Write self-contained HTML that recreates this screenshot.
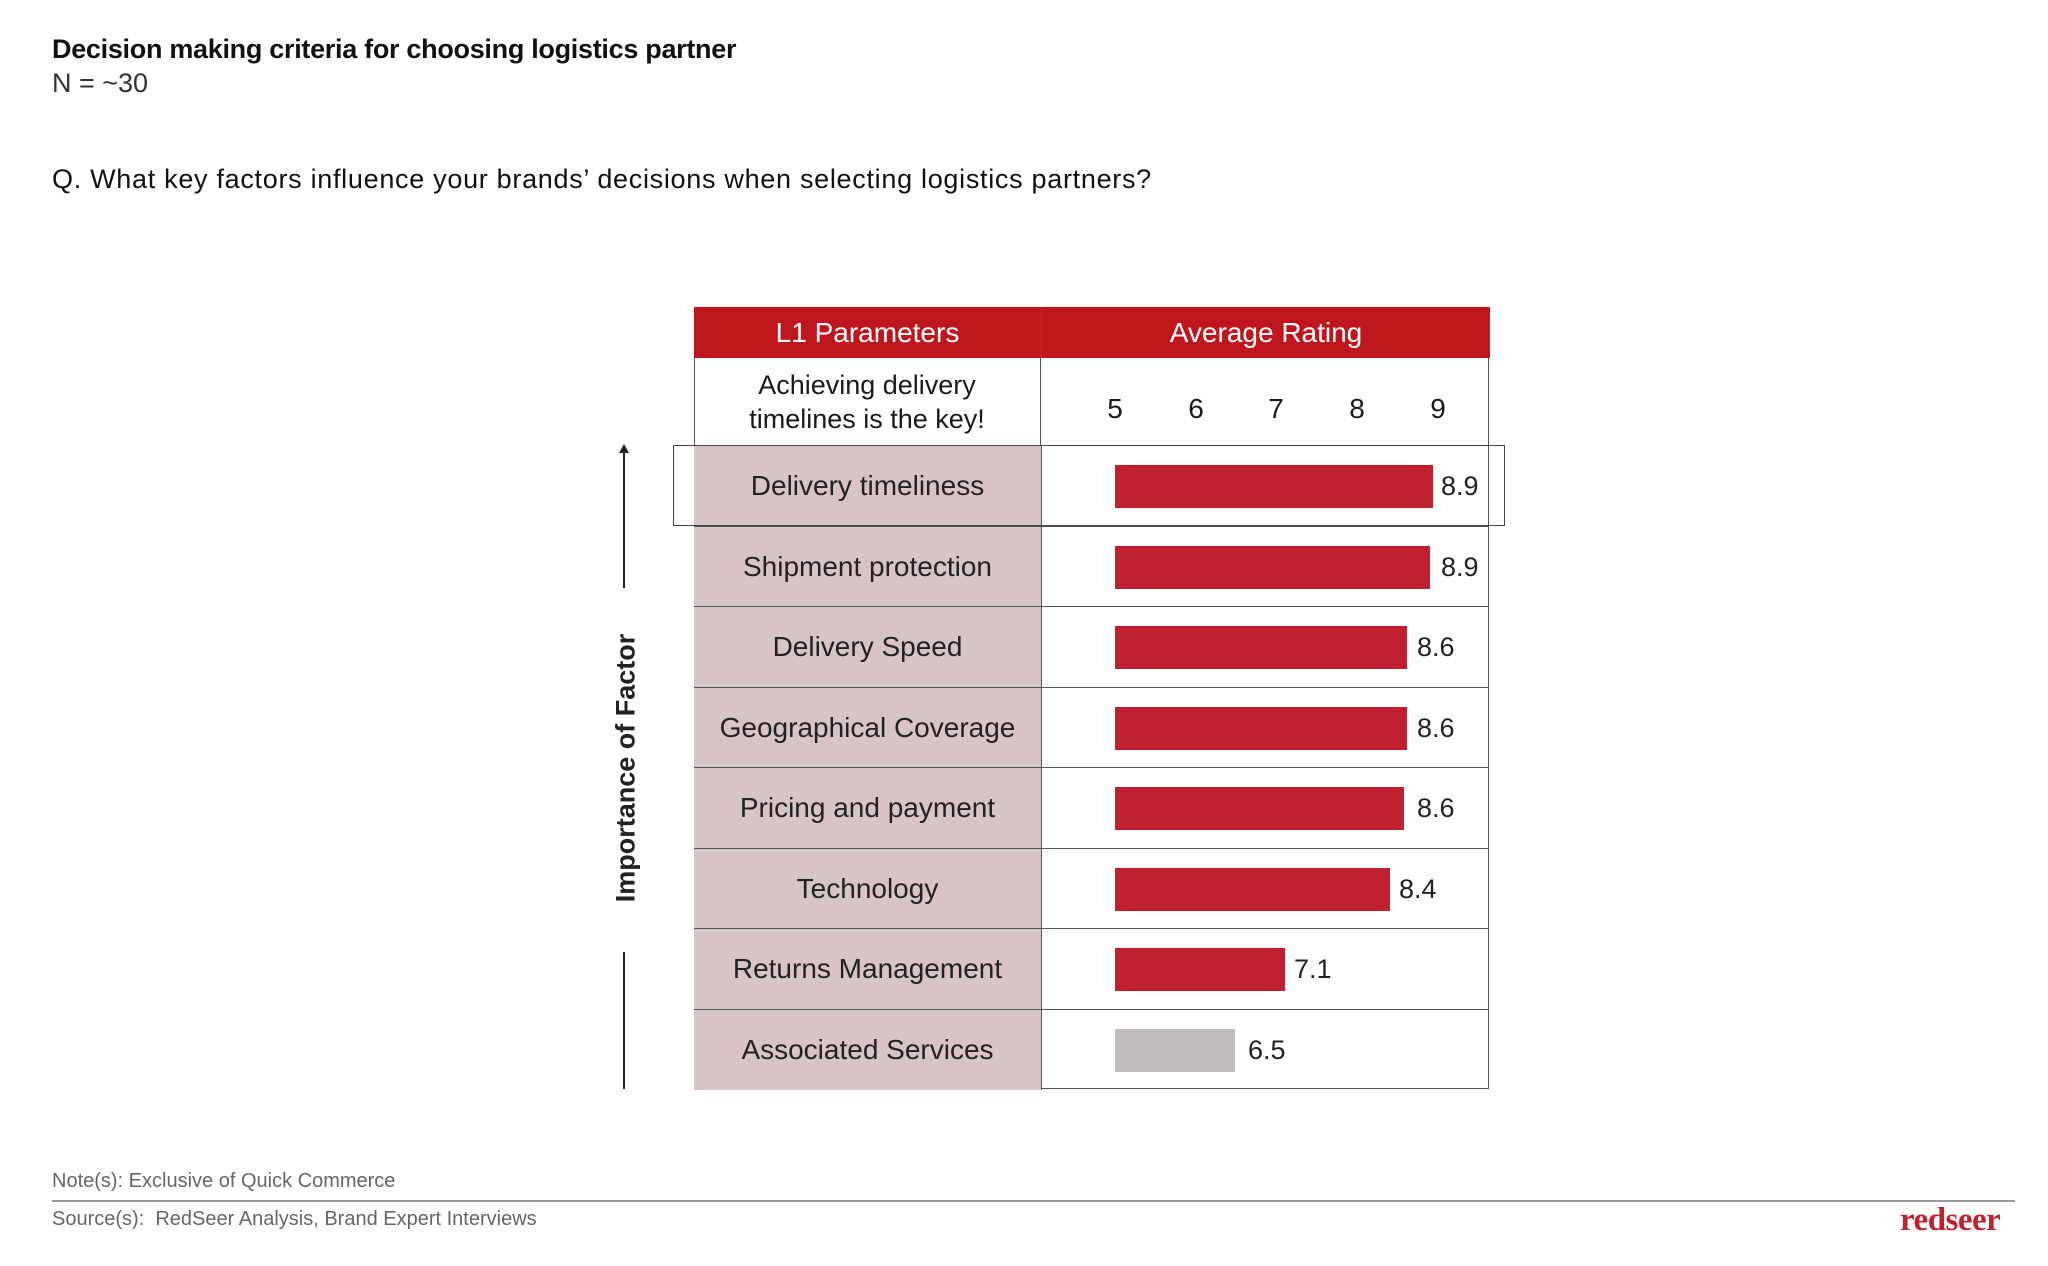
<!DOCTYPE html>
<html><head><meta charset="utf-8"><style>
body{margin:0;width:2048px;height:1266px;background:#fff;font-family:"Liberation Sans",sans-serif;color:#1a1a1a;position:relative;overflow:hidden}
.a{position:absolute;white-space:nowrap}
.row{position:absolute;left:694px;width:795px;height:80px;border-top:1px solid #555}
.lab{position:absolute;left:0;width:347px;height:100%;background:#d6c4c7;display:flex;align-items:center;justify-content:center;font-size:28px;color:#222;border-right:1px solid #555}
.bar{position:absolute;top:19px;height:43px;left:421px;background:#c0212f}
.val{position:absolute;top:25px;font-size:27px;color:#222}
</style></head><body>
<div class="a" style="left:52px;top:34px;font-size:27px;font-weight:bold;color:#111;letter-spacing:-0.3px">Decision making criteria for choosing logistics partner</div>
<div class="a" style="left:52px;top:68px;font-size:27px;color:#333">N = ~30</div>
<div class="a" style="left:52px;top:164px;font-size:27px;color:#111;letter-spacing:0.7px">Q. What key factors influence your brands’ decisions when selecting logistics partners?</div>

<div class="a" style="left:694px;top:307px;width:795px;height:782px;border:1px solid #555;box-sizing:border-box"></div>
<div class="a" style="left:694px;top:307px;width:347px;height:51px;background:#be161c;color:#fff;font-size:28px;display:flex;align-items:center;justify-content:center">L1 Parameters</div>
<div class="a" style="left:1041px;top:307px;width:448px;height:51px;background:#be161c;color:#fff;font-size:28px;display:flex;align-items:center;justify-content:center;border-left:1px solid #555">Average Rating</div>
<div class="a" style="left:694px;top:358px;width:347px;height:87px;border-right:1px solid #555;font-size:27px;display:flex;align-items:center;justify-content:center;text-align:center;line-height:34px;white-space:normal;box-sizing:border-box">Achieving delivery<br>timelines is the key!</div>
<div class="a" style="left:1103px;top:393px;font-size:28px;width:24px;text-align:center">5</div>
<div class="a" style="left:1184px;top:393px;font-size:28px;width:24px;text-align:center">6</div>
<div class="a" style="left:1264px;top:393px;font-size:28px;width:24px;text-align:center">7</div>
<div class="a" style="left:1345px;top:393px;font-size:28px;width:24px;text-align:center">8</div>
<div class="a" style="left:1426px;top:393px;font-size:28px;width:24px;text-align:center">9</div>

<div class="row" style="top:445px"><div class="lab">Delivery timeliness</div><div class="bar" style="width:318px"></div><div class="val" style="left:747px">8.9</div></div>
<div class="row" style="top:526px"><div class="lab">Shipment protection</div><div class="bar" style="width:315px"></div><div class="val" style="left:747px">8.9</div></div>
<div class="row" style="top:606px"><div class="lab">Delivery Speed</div><div class="bar" style="width:292px"></div><div class="val" style="left:723px">8.6</div></div>
<div class="row" style="top:687px"><div class="lab">Geographical Coverage</div><div class="bar" style="width:292px"></div><div class="val" style="left:723px">8.6</div></div>
<div class="row" style="top:767px"><div class="lab">Pricing and payment</div><div class="bar" style="width:289px"></div><div class="val" style="left:723px">8.6</div></div>
<div class="row" style="top:848px"><div class="lab">Technology</div><div class="bar" style="width:275px"></div><div class="val" style="left:705px">8.4</div></div>
<div class="row" style="top:928px"><div class="lab">Returns Management</div><div class="bar" style="width:170px"></div><div class="val" style="left:600px">7.1</div></div>
<div class="row" style="top:1009px"><div class="lab">Associated Services</div><div class="bar" style="width:120px;background:#c0bcbd"></div><div class="val" style="left:554px">6.5</div></div>

<div class="a" style="left:673px;top:445px;width:832px;height:81px;border:1px solid #444;box-sizing:border-box"></div>

<div class="a" style="left:623px;top:450px;width:2px;height:138px;background:#222"></div>
<div class="a" style="left:619px;top:444px;width:0;height:0;border-left:5px solid transparent;border-right:5px solid transparent;border-bottom:9px solid #222"></div>
<div class="a" style="left:623px;top:952px;width:2px;height:137px;background:#222"></div>
<div class="a" style="left:626px;top:768px;transform:translate(-50%,-50%) rotate(-90deg);font-size:27px;font-weight:bold;color:#222">Importance of Factor</div>

<div class="a" style="left:52px;top:1170px;font-size:20px;color:#666">Note(s): Exclusive of Quick Commerce</div>
<div class="a" style="left:52px;top:1200px;width:1963px;height:2px;background:#999"></div>
<div class="a" style="left:52px;top:1208px;font-size:20px;color:#666">Source(s):&nbsp; RedSeer Analysis, Brand Expert Interviews</div>
<div class="a" style="left:1900px;top:1202px;font-family:'Liberation Serif',serif;font-weight:bold;font-size:33px;color:#c0212f;letter-spacing:-0.5px">redseer</div>
</body></html>
